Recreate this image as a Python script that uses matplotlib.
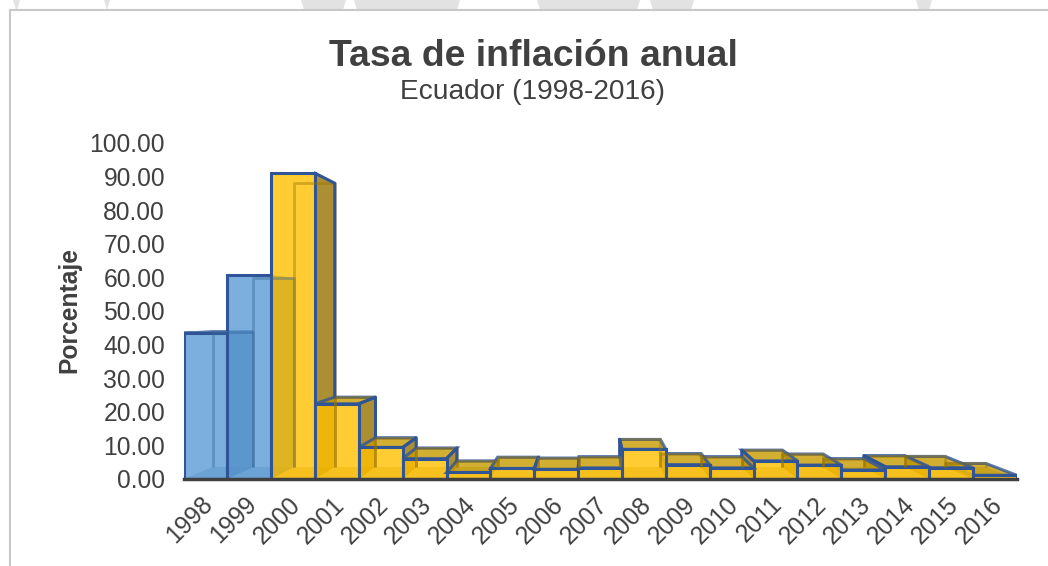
import matplotlib
matplotlib.use('Agg')
import matplotlib.pyplot as plt
from matplotlib.patches import Polygon, Rectangle
from matplotlib.transforms import ScaledTranslation

plt.rcParams['font.family'] = ['Liberation Sans', 'DejaVu Sans']

# Values
years = ['1998', '1999', '2000', '2001', '2002', '2003', '2004', '2005', '2006', '2007',
         '2008', '2009', '2010', '2011', '2012', '2013', '2014', '2015', '2016']
inflation = [43.4, 60.7, 91.0, 22.4, 9.4, 6.1, 1.95, 3.14, 2.87, 3.32,
             8.83, 4.31, 3.33, 5.41, 4.16, 2.70, 3.67, 3.38, 1.12]
bar_colors = ['blue', 'blue'] + ['gold'] * 17

# perspective of the fake 3d box
depth = 0.928
vanish_x = 9.25
vanish_y = 49.7

fills = {'blue': '#5B9BD5', 'gold': '#FFC000'}
shades = {'blue': '#37699A', 'gold': '#997300'}
tops = {'blue': '#4A82B8', 'gold': '#C79A00'}
edge = '#2F5597'

# bits of the page watermark above the chart, x range in pixels
watermark = [(13, 20), (104, 110), (301, 346), (354, 460), (537, 640), (650, 694), (916, 932)]


def back(x, y):
    return (vanish_x + (x - vanish_x) * depth, vanish_y + (y - vanish_y) * depth)


def draw_side(ax, x, value, neighbour, kind):
    corner = back(x, value)
    foot = back(x, 0)
    ax.add_patch(Polygon([(x, 0), foot, corner, (x, value)], fc=shades[kind], alpha=0.8, ec='none'))
    # the outline only shows where the neighbour bar is lower
    if neighbour < value:
        stop = back(x, neighbour)
        ax.plot([x, corner[0], stop[0]], [value, corner[1], stop[1]], color=edge, lw=2.2)


def draw_bar(ax, i, value, kind):
    x0, x1 = i, i + 1
    bl = back(x0, 0)
    br = back(x1, 0)
    tl = back(x0, value)
    tr = back(x1, value)
    # floor and back lines, only faint
    ax.add_patch(Polygon([(x0, 0), (x1, 0), br, bl], fc=shades[kind], alpha=0.4, ec='none'))
    ax.plot([bl[0], tl[0], tr[0], br[0]], [bl[1], tl[1], tr[1], br[1]],
            color=shades[kind], alpha=0.42, lw=2, solid_capstyle='butt')
    # side that can be seen
    if x1 < vanish_x:
        draw_side(ax, x1, value, inflation[i + 1], kind)
    if x0 > vanish_x:
        draw_side(ax, x0, value, inflation[i - 1], kind)
    # top face for the low bars
    if value < vanish_y:
        ax.add_patch(Polygon([(x0, value), (x1, value), tr, tl], fc=tops[kind], alpha=0.8, ec=edge, lw=2.2))
    ax.add_patch(Rectangle((x0, 0), 1, value, fc=fills[kind], alpha=0.8, ec='none'))
    ax.add_patch(Rectangle((x0, 0), 1, value, fc='none', ec=edge, lw=2.2))


fig = plt.figure(figsize=(10.48, 5.66), dpi=100)

# page watermark and chart frame (open on the right and the bottom)
for left, right in watermark:
    fig.add_artist(Polygon([(left / 1048, 1), (right / 1048, 1), ((right - 3) / 1048, 1 - 10 / 566),
                            ((left + 3) / 1048, 1 - 10 / 566)], fc='#E2E2E2', ec='none',
                           transform=fig.transFigure, zorder=-2))
fig.add_artist(plt.Line2D([9.5 / 1048, 9.5 / 1048, 1], [0, 1 - 10 / 566, 1 - 10 / 566], color='#C8C8C8', lw=1.5,
                          transform=fig.transFigure, zorder=-1))

ax = fig.add_axes([183.5 / 1048, 1 - 479 / 566, 833.2 / 1048, 336 / 566])
ax.set_xlim(0, 19)
ax.set_ylim(0, 100)
ax.patch.set_visible(False)

order = [i for i in range(19) if i + 0.5 < vanish_x] + [i for i in range(18, -1, -1) if i + 0.5 >= vanish_x]
for i in order:
    draw_bar(ax, i, inflation[i], bar_colors[i])

for side in ['top', 'right', 'left']:
    ax.spines[side].set_visible(False)
ax.spines['bottom'].set_color('#404040')
ax.spines['bottom'].set_linewidth(2.5)
ax.spines['bottom'].set_zorder(10)

ax.set_yticks(range(0, 101, 10))
ax.set_yticklabels([f'{v:.2f}' for v in range(0, 101, 10)])
ax.set_xticks([i + 0.5 for i in range(19)])
ax.set_xticklabels(years, rotation=45, ha='center', rotation_mode='default')
ax.tick_params(axis='both', length=0, labelsize=17.7, labelcolor='#404040')
ax.tick_params(axis='y', pad=13.3)
ax.tick_params(axis='x', pad=6)

# year labels sit a little left of the bars
shift = ScaledTranslation(-16 / 100, -5 / 100, fig.dpi_scale_trans)
for label in ax.get_xticklabels():
    label.set_transform(label.get_transform() + shift)

fig.text(533 / 1048, 1 - 57 / 566, 'Tasa de inflación anual', fontsize=26.9, fontweight='bold',
         color='#404040', ha='center', va='center')
fig.text(533 / 1048, 1 - 92 / 566, 'Ecuador (1998-2016)', fontsize=20.2,
         color='#404040', ha='center', va='center')
fig.text(69 / 1048, 1 - 310 / 566, 'Porcentaje', fontsize=17.7, fontweight='bold',
         color='#404040', rotation=90, ha='center', va='center')

fig.savefig('out.png', dpi=100)
